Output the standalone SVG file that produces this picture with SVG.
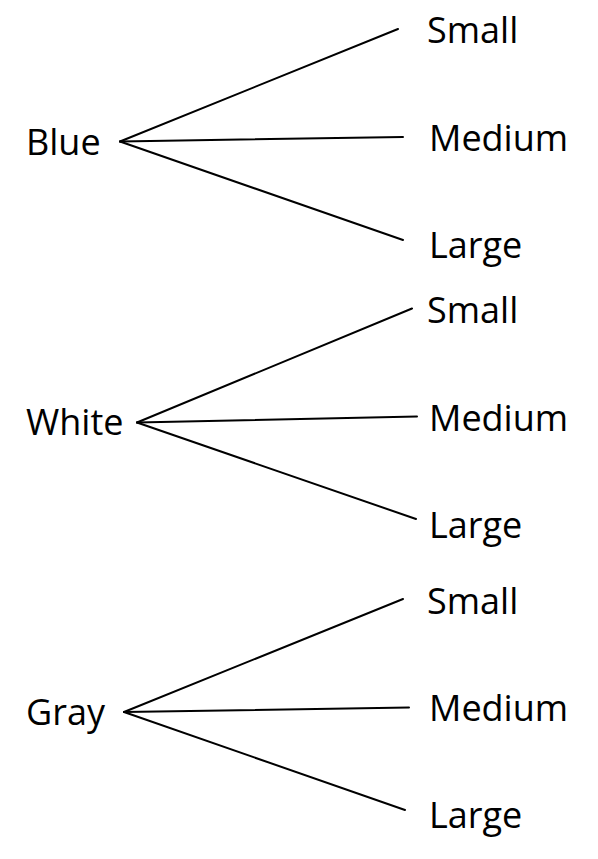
<svg xmlns="http://www.w3.org/2000/svg" width="598" height="859" viewBox="0 0 598 859">
<style>
text{font-family:"Open Sans","Noto Sans",sans-serif;font-size:36px;fill:#000}
.c line{stroke:#000;stroke-width:2;stroke-linecap:round}
</style>
<rect width="598" height="859" fill="#fff"/>
<g id="connectors" class="c">
<line x1="120" y1="141.5" x2="398" y2="29"/>
<line x1="120" y1="141.5" x2="403" y2="137"/>
<line x1="120" y1="141.5" x2="403" y2="240"/>
<line x1="137" y1="422.5" x2="412" y2="308.5"/>
<line x1="137" y1="422.5" x2="417" y2="416.5"/>
<line x1="137" y1="422.5" x2="416" y2="519"/>
<line x1="124" y1="712" x2="403" y2="599"/>
<line x1="124" y1="712" x2="409" y2="707.5"/>
<line x1="124" y1="712" x2="405" y2="810"/>
</g>
<g id="blue"><text x="26" y="155">Blue</text></g>
<g id="blue-small"><text x="427" y="43">Small</text></g>
<g id="blue-medium"><text x="429" y="151">Medium</text></g>
<g id="blue-large"><text x="429" y="258">Large</text></g>
<g id="white"><text x="26" y="435">White</text></g>
<g id="white-small"><text x="427" y="322.5">Small</text></g>
<g id="white-medium"><text x="429" y="430.5">Medium</text></g>
<g id="white-large"><text x="429" y="538">Large</text></g>
<g id="gray"><text x="26" y="725">Gray</text></g>
<g id="gray-small"><text x="427" y="614">Small</text></g>
<g id="gray-medium"><text x="429" y="720.5">Medium</text></g>
<g id="gray-large"><text x="429" y="828">Large</text></g>
</svg>
